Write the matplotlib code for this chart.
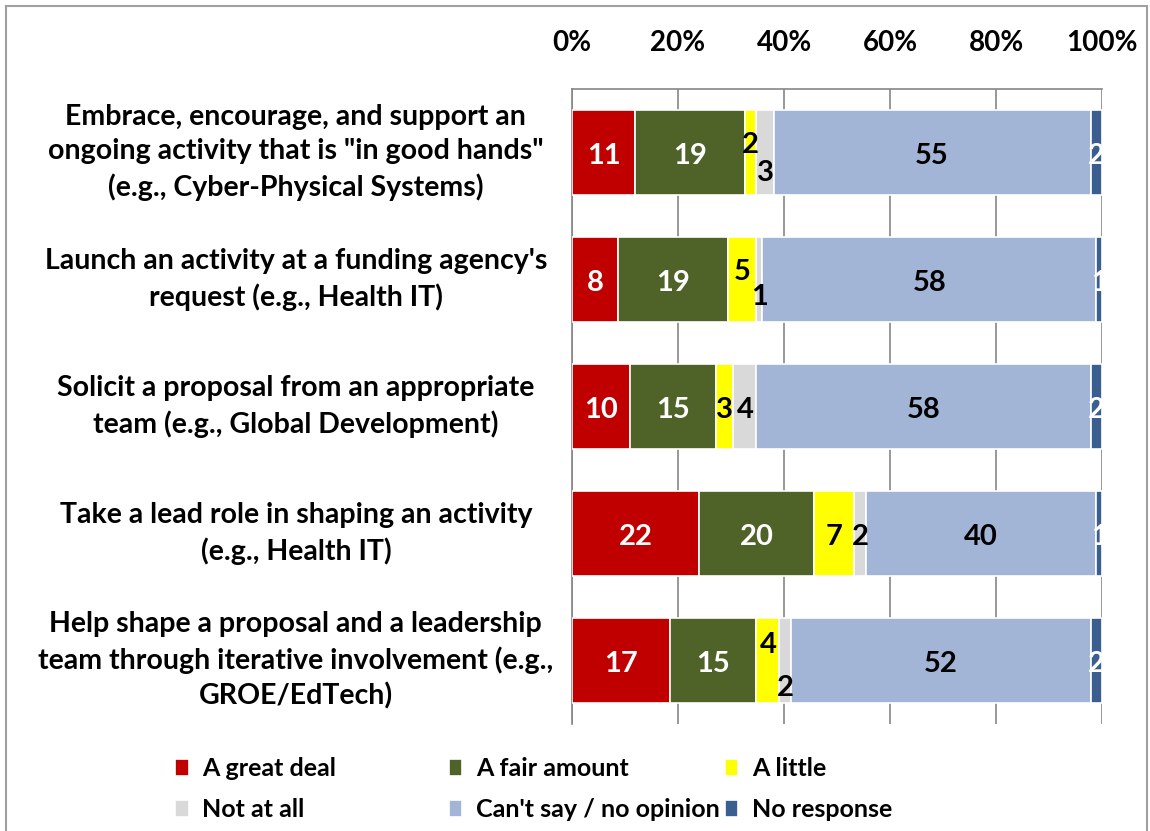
import numpy as np
import matplotlib.pyplot as plt
from matplotlib.patches import Rectangle

plt.rcParams['font.family'] = ['Lato', 'DejaVu Sans']
plt.rcParams['font.weight'] = 'bold'

# survey answers (counts, 92 respondents per item)
questions = [
    'Embrace, encourage, and support an\nongoing activity that is "in good hands"\n(e.g., Cyber-Physical Systems)',
    "Launch an activity at a funding agency's\nrequest (e.g., Health IT)",
    'Solicit a proposal from an appropriate\nteam (e.g., Global Development)',
    'Take a lead role in shaping an activity\n(e.g., Health IT)',
    'Help shape a proposal and a leadership\nteam through iterative involvement (e.g.,\nGROE/EdTech)',
]
answers = ['A great deal', 'A fair amount', 'A little', 'Not at all',
           "Can't say / no opinion", 'No response']
great_deal = [11, 8, 10, 22, 17]
fair_amount = [19, 19, 15, 20, 15]
a_little = [2, 5, 3, 7, 4]
not_at_all = [3, 1, 4, 2, 2]
cant_say = [55, 58, 58, 40, 52]
no_response = [2, 1, 2, 1, 2]

colors = ['#C00000', '#4F6228', '#FFFF00', '#D9D9D9', '#A2B5D6', '#3A5E8F']
label_colors = ['white', 'white', 'black', 'black', 'black', 'white']
# vertical nudges Excel applied to crowded labels (a little, not at all)
nudge = {(0, 2): -0.06, (0, 3): 0.16, (1, 2): -0.06, (1, 3): 0.14,
         (4, 2): -0.12, (4, 3): 0.22, (2, 2): 0.03, (2, 3): 0.03,
         (3, 2): 0.03, (3, 3): 0.03}

counts = np.array([great_deal, fair_amount, a_little, not_at_all, cant_say, no_response], dtype=float)
pct = counts / counts.sum(axis=0) * 100
y = np.arange(len(questions))

fig = plt.figure(figsize=(11.5, 8.31), dpi=100)
ax = fig.add_axes([0.4974, 0.1288, 0.4609, 0.7641])

left = np.zeros(len(questions))
for i, name in enumerate(answers):
    ax.barh(y, pct[i], left=left, height=0.67, color=colors[i],
            edgecolor='white', linewidth=1.2, label=name, zorder=3)
    for j in range(len(questions)):
        cx = left[j] + pct[i][j] / 2
        ax.text(cx, y[j] + nudge.get((j, i), 0.03), str(int(counts[i][j])),
                ha='center', va='center', fontsize=21, fontweight='bold',
                color=label_colors[i], zorder=4)
    left += pct[i]

ax.set_xlim(0, 100)
ax.set_ylim(len(questions) - 0.5, -0.5)
ax.xaxis.tick_top()
ax.set_xticks(np.arange(0, 101, 20))
ax.set_xticklabels([f'{t}%' for t in range(0, 101, 20)], fontsize=20, fontweight='bold')
ax.tick_params(axis='x', length=0, pad=24)
ax.set_yticks([])
ax.grid(axis='x', color='#868686', linewidth=1.2, zorder=0)
for s in ['bottom', 'right']:
    ax.spines[s].set_visible(False)
for s in ['top', 'left']:
    ax.spines[s].set_color('#868686')
    ax.spines[s].set_linewidth(1.2)

for j, q in enumerate(questions):
    ax.text(-0.521, y[j], q, transform=ax.get_yaxis_transform(), ha='center', va='center',
            fontsize=20.5, fontweight='bold', linespacing=1.4, multialignment='center')

# legend: three equal-width columns, filled row by row
handles, labels = ax.get_legend_handles_labels()
col_x = [0.152, 0.390, 0.630]
for c in range(3):
    fig.legend([handles[c], handles[c + 3]], [labels[c], labels[c + 3]],
               loc='upper left', bbox_to_anchor=(col_x[c], 0.089), frameon=False,
               borderpad=0, borderaxespad=0, handlelength=0.55, handleheight=0.65,
               handletextpad=0.55, labelspacing=0.72,
               prop={'weight': 'bold', 'size': 18})

fig.patches.append(Rectangle((0.005, -0.01), 0.992, 1.003, transform=fig.transFigure,
                             fill=False, edgecolor='#A0A0A0', linewidth=1.5))

fig.savefig('out.png', dpi=100)
